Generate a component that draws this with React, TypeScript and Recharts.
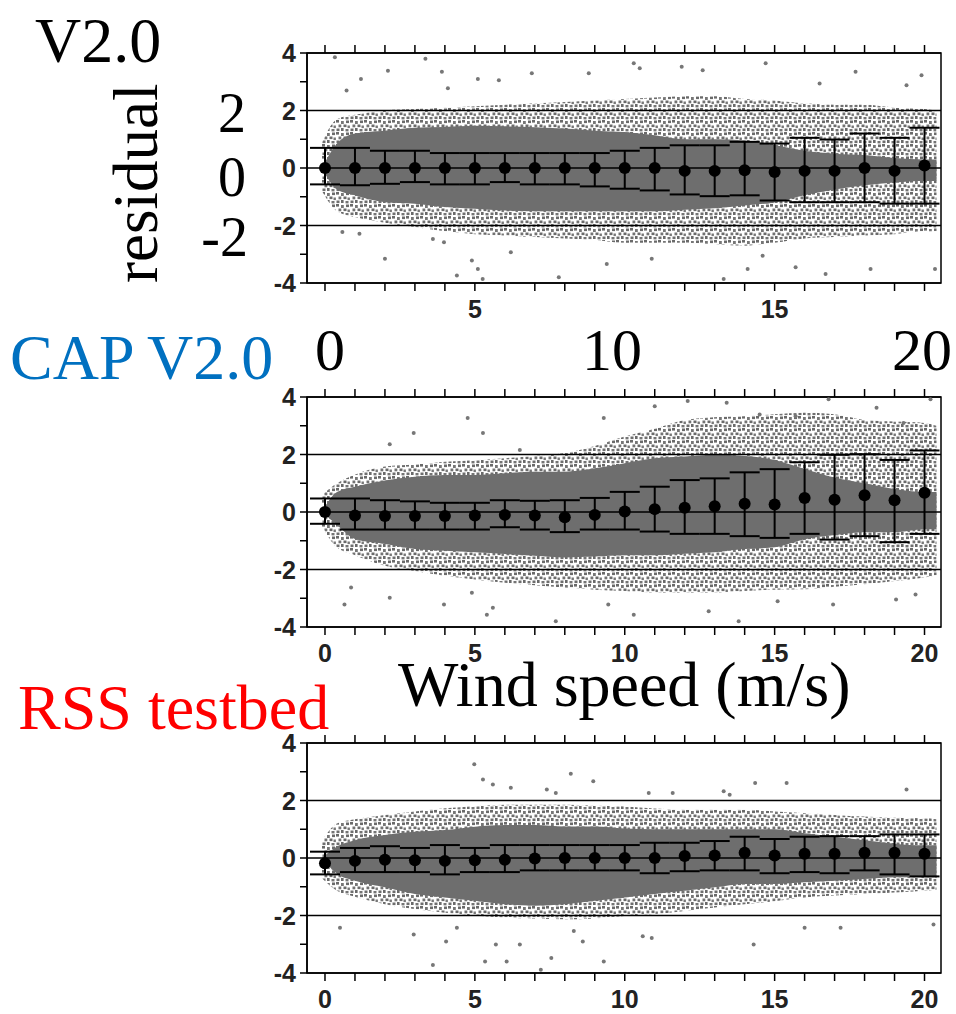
import React from 'react';
import {
  ComposedChart,
  Area,
  Scatter,
  ErrorBar,
  XAxis,
  YAxis,
  ReferenceLine,
  ReferenceArea,
} from 'recharts';

// bin centres (m/s)
const windSpeeds = [0, 1, 2, 3, 4, 5, 6, 7, 8, 9, 10, 11, 12, 13, 14, 15, 16, 17, 18, 19, 20];
const yTicks = [-4, -3, -2, -1, 0, 1, 2, 3, 4];
const xDomain: [number, number] = [-0.6, 20.55];

const cloudX = [-0.1, 0.4, 1, 2, 3, 4, 5, 6, 7, 8, 9, 10, 11, 12, 13, 14, 15, 16, 17, 18, 19, 20, 20.4];

// ---- V2.0 ----
const v2Mean = [0, 0, 0, 0, 0, 0, 0, 0, 0, 0, 0, 0, -0.1, -0.1, -0.08, -0.14, -0.1, -0.1, 0, -0.1, 0.09];
const v2Upper = [0.7, 0.7, 0.6, 0.6, 0.52, 0.52, 0.52, 0.52, 0.52, 0.52, 0.6, 0.7, 0.79, 0.79, 0.91, 0.85, 1.05, 0.99, 1.2, 1.05, 1.4];
const v2Lower = [-0.57, -0.6, -0.55, -0.49, -0.57, -0.57, -0.49, -0.57, -0.57, -0.64, -0.72, -0.78, -0.92, -0.98, -0.95, -1.13, -1.19, -1.19, -1.19, -1.24, -1.24];
const v2CoreHigh = [0, 0.85, 1.2, 1.3, 1.4, 1.43, 1.47, 1.45, 1.42, 1.37, 1.3, 1.25, 1.14, 1.0, 1.0, 0.96, 0.8, 0.6, 0.5, 0.45, 0.35, 0.3, 0.3];
const v2CoreLow = [0, -0.75, -0.95, -1.19, -1.24, -1.36, -1.42, -1.48, -1.5, -1.5, -1.5, -1.5, -1.5, -1.45, -1.4, -1.3, -1.2, -0.95, -0.75, -0.6, -0.5, -0.45, -0.45];
const v2HaloHigh = [0.9, 1.7, 1.85, 2.0, 2.05, 2.1, 2.15, 2.2, 2.25, 2.3, 2.35, 2.4, 2.45, 2.5, 2.5, 2.4, 2.35, 2.25, 2.2, 2.2, 2.1, 2.05, 2.0];
const v2HaloLow = [-0.8, -1.5, -1.7, -1.9, -2.05, -2.2, -2.3, -2.35, -2.4, -2.45, -2.5, -2.6, -2.6, -2.6, -2.65, -2.7, -2.6, -2.45, -2.4, -2.35, -2.3, -2.2, -2.2];
const v2Outliers = [
  [0.33, 3.85], [0.72, 2.7], [1.2, 3.1], [2.1, 3.38], [3.35, 3.8], [3.9, 3.35], [4.1, 2.77], [5.1, 3.1],
  [5.8, 3.05], [6.9, 3.3], [8.8, 3.3], [10.3, 3.64], [10.5, 3.47], [11.9, 3.52], [12.6, 3.4], [14.7, 3.64],
  [16.5, 2.94], [17.7, 3.35], [19.4, 2.88], [19.9, 3.23],
  [0.58, -2.23], [1.15, -2.29], [2.0, -3.16], [3.6, -2.47], [3.97, -2.58], [4.4, -3.74], [4.9, -3.22],
  [5.1, -3.51], [5.26, -3.86], [6.2, -2.93], [7.8, -3.8], [9.4, -3.34], [10.9, -3.16], [13.3, -3.86],
  [14.1, -3.51], [14.6, -3.05], [15.7, -3.45], [16.7, -3.69], [18.2, -3.51], [20.35, -3.51],
];

// ---- CAP V2.0 ----
const capMean = [0, -0.12, -0.14, -0.14, -0.14, -0.12, -0.1, -0.12, -0.18, -0.1, 0.02, 0.1, 0.15, 0.2, 0.29, 0.26, 0.49, 0.43, 0.58, 0.41, 0.67];
const capUpper = [0.47, 0.47, 0.41, 0.37, 0.32, 0.32, 0.41, 0.39, 0.41, 0.49, 0.7, 0.88, 1.11, 1.17, 1.38, 1.49, 1.73, 1.99, 2.01, 1.81, 2.14];
const capLower = [-0.41, -0.61, -0.61, -0.61, -0.61, -0.61, -0.53, -0.61, -0.7, -0.61, -0.61, -0.68, -0.76, -0.76, -0.84, -0.9, -0.76, -0.96, -0.84, -1.05, -0.76];
const capCoreHigh = [0, 0.7, 0.88, 1.1, 1.23, 1.29, 1.29, 1.35, 1.4, 1.4, 1.52, 1.7, 1.87, 1.93, 1.99, 1.95, 1.81, 1.5, 1.2, 1.0, 0.8, 0.7, 0.7];
const capCoreLow = [0, -0.45, -0.94, -1.11, -1.29, -1.35, -1.4, -1.46, -1.52, -1.58, -1.55, -1.5, -1.5, -1.45, -1.4, -1.29, -1.23, -0.95, -0.8, -0.7, -0.7, -0.6, -0.6];
const capHaloHigh = [0.6, 1.0, 1.3, 1.58, 1.65, 1.75, 1.8, 1.87, 1.95, 2.05, 2.3, 2.63, 2.9, 3.2, 3.3, 3.33, 3.4, 3.45, 3.4, 3.2, 3.15, 3.1, 3.0];
const capHaloLow = [-0.5, -1.23, -1.5, -1.87, -2.05, -2.22, -2.35, -2.46, -2.55, -2.63, -2.7, -2.75, -2.8, -2.8, -2.8, -2.75, -2.7, -2.69, -2.6, -2.51, -2.4, -2.28, -2.2];
const capOutliers = [
  [2.16, 2.36], [2.96, 2.75], [4.76, 3.27], [5.27, 2.75], [6.5, 2.16], [9.3, 3.27], [11.0, 3.68], [12.1, 3.86],
  [13.4, 3.8], [14.5, 3.39], [15.7, 3.33], [16.8, 3.92], [18.4, 3.63], [19.3, 3.1], [20.2, 3.92],
  [0.65, -3.22], [0.87, -2.63], [2.16, -2.98], [3.97, -3.22], [4.9, -2.81], [5.4, -3.57], [5.6, -3.33],
  [7.7, -3.8], [9.45, -3.22], [10.3, -3.57], [12.8, -3.45], [13.8, -3.8], [15.1, -3.1], [16.95, -3.22],
  [19.05, -3.04], [19.7, -2.87],
];

// ---- RSS testbed ----
const rssMean = [-0.18, -0.1, -0.06, -0.08, -0.1, -0.08, -0.06, -0.02, 0, 0, 0, 0, 0.07, 0.09, 0.18, 0.09, 0.15, 0.15, 0.18, 0.18, 0.15];
const rssUpper = [0.22, 0.35, 0.41, 0.35, 0.45, 0.35, 0.45, 0.45, 0.45, 0.45, 0.45, 0.53, 0.53, 0.59, 0.74, 0.66, 0.74, 0.76, 0.76, 0.82, 0.82];
const rssLower = [-0.57, -0.49, -0.49, -0.49, -0.57, -0.49, -0.49, -0.43, -0.43, -0.43, -0.43, -0.53, -0.46, -0.43, -0.43, -0.53, -0.49, -0.53, -0.43, -0.57, -0.64];
const rssCoreHigh = [0, 0.4, 0.62, 0.8, 0.91, 0.97, 1.09, 1.15, 1.15, 1.1, 1.1, 1.03, 1.0, 1.0, 1.0, 1.0, 1.0, 0.86, 0.74, 0.62, 0.5, 0.44, 0.44];
const rssCoreLow = [0, -0.55, -0.79, -1.02, -1.25, -1.37, -1.49, -1.61, -1.66, -1.61, -1.49, -1.37, -1.25, -1.14, -1.02, -0.9, -0.9, -0.84, -0.79, -0.73, -0.67, -0.67, -0.67];
const rssHaloHigh = [0.6, 1.2, 1.35, 1.5, 1.62, 1.73, 1.8, 1.85, 1.85, 1.85, 1.82, 1.79, 1.72, 1.68, 1.68, 1.68, 1.62, 1.56, 1.5, 1.44, 1.4, 1.38, 1.35];
const rssHaloLow = [-0.7, -1.14, -1.35, -1.61, -1.78, -1.9, -2.0, -2.07, -2.1, -2.13, -2.1, -2.02, -1.95, -1.84, -1.72, -1.61, -1.5, -1.37, -1.3, -1.25, -1.2, -1.14, -1.1];
const rssOutliers = [
  [4.98, 3.26], [5.27, 2.73], [5.6, 2.56], [6.2, 2.44], [7.4, 2.38], [7.7, 2.26], [8.2, 2.93], [8.95, 2.67],
  [10.8, 2.26], [11.6, 2.26], [13.3, 2.32], [13.5, 2.2], [14.35, 2.61], [15.4, 2.61], [19.4, 2.38],
  [0.5, -2.43], [2.96, -2.66], [3.6, -3.72], [4.04, -2.9], [4.4, -2.43], [5.34, -3.6], [5.7, -3.01],
  [6.06, -3.6], [6.5, -3.01], [7.2, -3.89], [7.55, -3.48], [8.3, -2.54], [8.6, -2.9], [9.3, -3.6],
  [10.6, -2.72], [10.9, -2.78], [14.3, -3.01], [16.0, -2.43], [17.2, -2.43], [20.3, -2.31],
];

const tickFont = "'Liberation Sans Narrow', 'Liberation Sans', Arial, sans-serif";
const bigFont = "'Liberation Serif', 'Times New Roman', serif";

function XTick({ x, y, payload, labels }: any) {
  if (!labels.includes(payload.value)) return <g />;
  return (
    <text x={x} y={y} dy="0.71em" textAnchor="middle" fontSize={25} fontWeight={700} fill="#222" fontFamily={tickFont}>
      {payload.value}
    </text>
  );
}

function YTick({ x, y, payload }: any) {
  if (payload.value % 2 !== 0) return <g />;
  return (
    <text x={x} y={y} dy="0.36em" textAnchor="end" fontSize={25} fontWeight={700} fill="#222" fontFamily={tickFont}>
      {payload.value}
    </text>
  );
}

interface PanelProps {
  id: string;
  top: number;
  mean: number[];
  upper: number[];
  lower: number[];
  coreHigh: number[];
  coreLow: number[];
  haloHigh: number[];
  haloLow: number[];
  outliers: number[][];
  xLabels: number[];
}

function ResidualPanel(p: PanelProps) {
  const cloud = cloudX.map((x, i) => ({
    x,
    halo: [p.haloLow[i], p.haloHigh[i]],
    core: [p.coreLow[i], p.coreHigh[i]],
  }));
  const bins = windSpeeds.map((x, i) => ({
    x,
    y: p.mean[i],
    err: [p.mean[i] - p.lower[i], p.upper[i] - p.mean[i]],
  }));
  const dots = p.outliers.map(([x, y]) => ({ x, y }));

  return (
    <div style={{ position: 'absolute', left: 0, top: p.top }}>
      <ComposedChart width={956} height={324} data={cloud} margin={{ top: 43, right: 15, bottom: 1, left: 267 }}>
        <defs>
          <pattern id={`speckle-${p.id}`} width={14} height={12} patternUnits="userSpaceOnUse">
            <rect x={0} y={0} width={3} height={2.6} fill="#6a6a6a" />
            <rect x={5} y={1} width={2.8} height={3} fill="#767676" />
            <rect x={10} y={0.5} width={3} height={2.6} fill="#6a6a6a" />
            <rect x={2.5} y={4.5} width={2.8} height={2.8} fill="#727272" />
            <rect x={7.5} y={4.5} width={3} height={2.6} fill="#6a6a6a" />
            <rect x={11.5} y={5.5} width={2.4} height={2.6} fill="#777" />
            <rect x={0.5} y={8.5} width={3} height={2.6} fill="#6e6e6e" />
            <rect x={5} y={8} width={2.6} height={3} fill="#6a6a6a" />
            <rect x={9.5} y={9} width={3} height={2.4} fill="#747474" />
          </pattern>
        </defs>
        <XAxis
          type="number"
          dataKey="x"
          domain={xDomain}
          allowDataOverflow
          ticks={windSpeeds}
          interval={0}
          tickSize={8}
          tickMargin={9}
          height={40}
          stroke="#000"
          strokeWidth={1.5}
          tick={<XTick labels={p.xLabels} />}
        />
        <XAxis
          xAxisId="top"
          orientation="top"
          type="number"
          dataKey="x"
          domain={xDomain}
          allowDataOverflow
          ticks={windSpeeds}
          interval={0}
          tickSize={8}
          height={10}
          stroke="#000"
          strokeWidth={1.5}
          tick={() => <g />}
        />
        <YAxis
          type="number"
          domain={[-4, 4]}
          allowDataOverflow
          ticks={yTicks}
          interval={0}
          tickSize={7}
          tickMargin={4}
          width={40}
          stroke="#000"
          strokeWidth={1.5}
          tick={<YTick />}
        />
        <Area type="monotone" dataKey="halo" stroke="none" fill={`url(#speckle-${p.id})`} fillOpacity={1} isAnimationActive={false} />
        <Area type="monotone" dataKey="core" stroke="none" fill="#6e6e6e" fillOpacity={1} isAnimationActive={false} />
        <ReferenceLine y={2} stroke="#000" strokeWidth={1.5} />
        <ReferenceLine y={0} stroke="#000" strokeWidth={1.5} />
        <ReferenceLine y={-2} stroke="#000" strokeWidth={1.5} />
        <Scatter
          data={dots}
          dataKey="y"
          isAnimationActive={false}
          shape={(s: any) => <circle cx={s.cx} cy={s.cy} r={2} fill="#777" />}
        />
        <Scatter
          data={bins}
          dataKey="y"
          isAnimationActive={false}
          shape={(s: any) => <circle cx={s.cx} cy={s.cy} r={6} fill="#000" />}
        >
          <ErrorBar dataKey="err" direction="y" width={15} stroke="#000" strokeWidth={2} isAnimationActive={false} />
        </Scatter>
        <ReferenceArea x1={xDomain[0]} x2={xDomain[1]} y1={-4} y2={4} fill="none" stroke="#000" strokeWidth={1.5} ifOverflow="visible" />
      </ComposedChart>
    </div>
  );
}

export default function App() {
  return (
    <div style={{ position: 'absolute', left: 0, top: 0, width: 956, height: 1014, overflow: 'hidden', background: '#fff' }}>
      <ResidualPanel
        id="v2"
        top={0}
        mean={v2Mean}
        upper={v2Upper}
        lower={v2Lower}
        coreHigh={v2CoreHigh}
        coreLow={v2CoreLow}
        haloHigh={v2HaloHigh}
        haloLow={v2HaloLow}
        outliers={v2Outliers}
        xLabels={[5, 15]}
      />
      <ResidualPanel
        id="cap"
        top={344}
        mean={capMean}
        upper={capUpper}
        lower={capLower}
        coreHigh={capCoreHigh}
        coreLow={capCoreLow}
        haloHigh={capHaloHigh}
        haloLow={capHaloLow}
        outliers={capOutliers}
        xLabels={[0, 5, 10, 15, 20]}
      />
      <ResidualPanel
        id="rss"
        top={690}
        mean={rssMean}
        upper={rssUpper}
        lower={rssLower}
        coreHigh={rssCoreHigh}
        coreLow={rssCoreLow}
        haloHigh={rssHaloHigh}
        haloLow={rssHaloLow}
        outliers={rssOutliers}
        xLabels={[0, 5, 10, 15, 20]}
      />
      {/* large annotations laid over the panels */}
      <svg width={956} height={1014} style={{ position: 'absolute', left: 0, top: 0, pointerEvents: 'none' }} fontFamily={bigFont}>
        <text x={35} y={62} fontSize={64} fill="#000">V2.0</text>
        <text transform="translate(157,283) rotate(-90)" fontSize={63} fill="#000">residual</text>
        <text x={246} y={132} fontSize={56} textAnchor="end" fill="#000">2</text>
        <text x={246} y={196} fontSize={56} textAnchor="end" fill="#000">0</text>
        <text x={248} y={256} fontSize={56} textAnchor="end" fill="#000">-2</text>
        <text x={330} y={370} fontSize={60} textAnchor="middle" fill="#000">0</text>
        <text x={612} y={370} fontSize={60} textAnchor="middle" fill="#000">10</text>
        <text x={922} y={370} fontSize={60} textAnchor="middle" fill="#000">20</text>
        <text x={10} y={379} fontSize={64} fill="#0070C0">CAP V2.0</text>
        <text x={398} y={706} fontSize={64} fill="#000">Wind speed (m/s)</text>
        <text x={18} y={729} fontSize={64} fill="#FF0000">RSS testbed</text>
      </svg>
    </div>
  );
}
